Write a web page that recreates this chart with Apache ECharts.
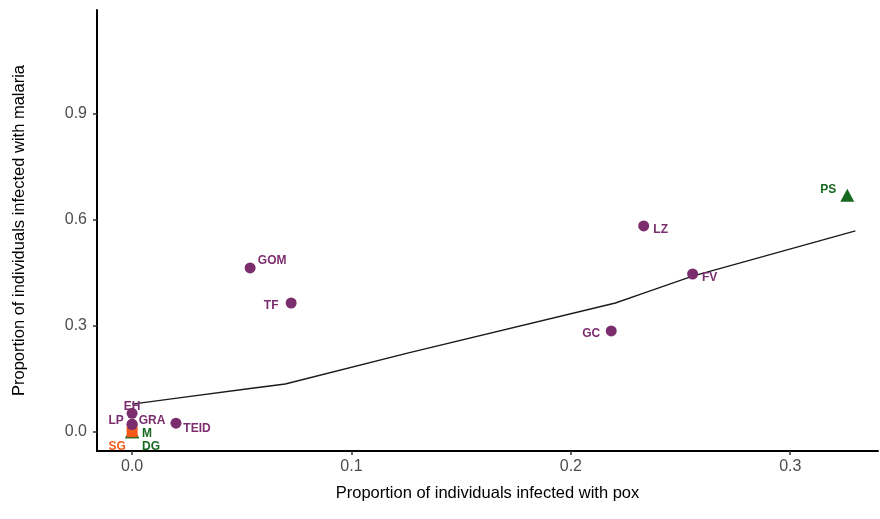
<!DOCTYPE html>
<html>
<head>
<meta charset="utf-8">
<script src="https://cdn.jsdelivr.net/npm/echarts/dist/echarts.min.js"></script>
<style>
  html, body { margin: 0; padding: 0; background: #fff; }
  #chart { width: 880px; height: 519px; }
</style>
</head>
<body>
<div id="chart"></div>
<script>
// Island populations: prevalence of pox vs malaria
const circleSites   = ['GOM', 'TF', 'LZ', 'FV', 'GC', 'EH', 'LP', 'GRA', 'TEID'];
const circlePox     = [0.0538, 0.0725, 0.2332, 0.2555, 0.2184, 0, 0, 0, 0.020];
const circleMalaria = [0.463, 0.364, 0.582, 0.446, 0.285, 0.052, 0.021, 0.021, 0.024];

const triangleSites   = ['PS', 'DG', 'M'];
const trianglePox     = [0.326, 0, 0];
const triangleMalaria = [0.669, 0, 0];

const squareSites   = ['SG'];
const squarePox     = [0];
const squareMalaria = [0];

// fitted trend
const trendPox     = [0, 0.0205, 0.0538, 0.0698, 0.126, 0.2203, 0.2332, 0.2555, 0.3297];
const trendMalaria = [0.078, 0.095, 0.122, 0.135, 0.223, 0.364, 0.392, 0.440, 0.568];

const xTicks = [0, 0.1, 0.2, 0.3];
const yTicks = [0, 0.3, 0.6, 0.9];

// label placement (pixel offsets from each marker)
const labelOffsets = {
  GOM: [22, -7], TF: [-20, 3], LZ: [17, 4], FV: [17, 4], GC: [-20, 3],
  EH: [0, -7], LP: [-16, -4], GRA: [20, -4], TEID: [21, 5],
  PS: [-19, -5], DG: [19, 15], M: [15, 2], SG: [-15, 15]
};

const PURPLE = '#7b2d6e';
const GREEN = '#17691f';
const ORANGE = '#f4581c';
const FONT = '"Liberation Sans", Arial, sans-serif';

function points(names, xs, ys, color) {
  return names.map((n, i) => ({
    name: n,
    value: [xs[i], ys[i]],
    label: {
      show: true,
      formatter: n,
      position: 'inside',
      offset: labelOffsets[n],
      color: color,
      fontFamily: FONT,
      fontSize: 12,
      fontWeight: 'bold',
      align: 'center',
      verticalAlign: 'middle'
    }
  }));
}

const chart = echarts.init(document.getElementById('chart'), null, { renderer: 'canvas' });

const axisCommon = {
  axisLine: { show: true, onZero: false, lineStyle: { color: '#000', width: 2 } },
  axisTick: { show: true, length: 4, lineStyle: { color: '#333', width: 1.5 } },
  splitLine: { show: false },
  nameTextStyle: { color: '#000', fontFamily: FONT, fontSize: 16.5 }
};

chart.setOption({
  animation: false,
  backgroundColor: '#fff',
  grid: { left: 97, right: 2, top: 10, bottom: 68, containLabel: false },
  xAxis: Object.assign({}, axisCommon, {
    type: 'value',
    min: -0.016,
    max: 0.340,
    name: 'Proportion of individuals infected with pox',
    nameLocation: 'middle',
    nameGap: 34,
    axisTick: Object.assign({}, axisCommon.axisTick, { customValues: xTicks }),
    axisLabel: {
      customValues: xTicks,
      formatter: v => v.toFixed(1),
      color: '#4d4d4d', fontFamily: FONT, fontSize: 16, margin: 8
    }
  }),
  yAxis: Object.assign({}, axisCommon, {
    type: 'value',
    min: -0.0546,
    max: 1.1926,
    name: 'Proportion of individuals infected with malaria',
    nameLocation: 'middle',
    nameGap: 69,
    axisTick: Object.assign({}, axisCommon.axisTick, { customValues: yTicks }),
    axisLabel: {
      customValues: yTicks,
      formatter: v => v.toFixed(1),
      color: '#4d4d4d', fontFamily: FONT, fontSize: 16, margin: 10
    }
  }),
  series: [
    {
      type: 'line',
      data: trendPox.map((x, i) => [x, trendMalaria[i]]),
      showSymbol: false,
      lineStyle: { color: '#1a1a1a', width: 1.4 },
      z: 1
    },
    {
      type: 'scatter',
      symbol: 'triangle',
      symbolSize: [14, 13],
      itemStyle: { color: GREEN, opacity: 1 },
      data: points(triangleSites, trianglePox, triangleMalaria, GREEN),
      z: 2
    },
    {
      type: 'scatter',
      symbol: 'rect',
      symbolSize: 11,
      itemStyle: { color: ORANGE, opacity: 1 },
      data: points(squareSites, squarePox, squareMalaria, ORANGE),
      z: 3
    },
    {
      type: 'scatter',
      symbol: 'circle',
      symbolSize: 11,
      itemStyle: { color: PURPLE, opacity: 1 },
      data: points(circleSites, circlePox, circleMalaria, PURPLE),
      z: 4
    }
  ]
});
</script>
</body>
</html>
